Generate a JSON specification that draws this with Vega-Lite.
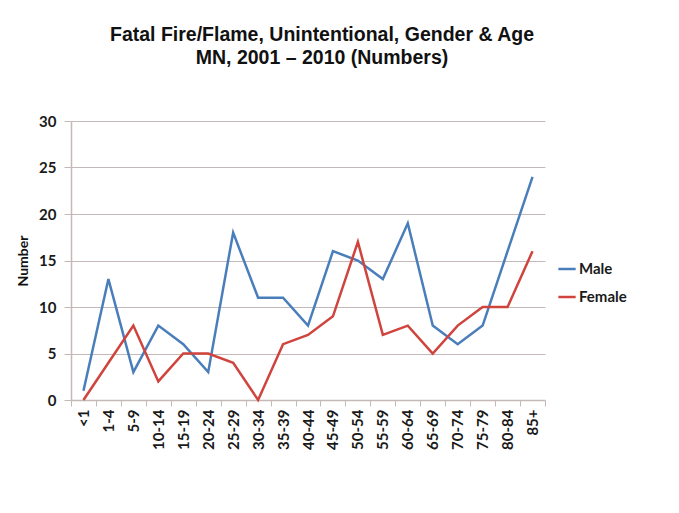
{
  "$schema": "https://vega.github.io/schema/vega-lite/v6.json",
  "width": 474,
  "height": 279,
  "autosize": {"type": "none"},
  "padding": {"left": 71, "top": 121, "right": 134, "bottom": 113},
  "background": "white",
  "title": {
    "text": "Fatal Fire/Flame, Unintentional, Gender & Age",
    "subtitle": "MN, 2001 – 2010 (Numbers)",
    "anchor": "middle",
    "dx": 14,
    "offset": 46,
    "font": "Liberation Sans",
    "fontSize": 19.5,
    "fontWeight": "bold",
    "color": "#111111",
    "subtitleFont": "Liberation Sans",
    "subtitleFontSize": 19.5,
    "subtitleFontWeight": "bold",
    "subtitleColor": "#111111",
    "subtitlePadding": 3
  },
  "data": {
    "values": [
      {"age": "<1", "gender": "Male", "n": 1},
      {"age": "1-4", "gender": "Male", "n": 13},
      {"age": "5-9", "gender": "Male", "n": 3},
      {"age": "10-14", "gender": "Male", "n": 8},
      {"age": "15-19", "gender": "Male", "n": 6},
      {"age": "20-24", "gender": "Male", "n": 3},
      {"age": "25-29", "gender": "Male", "n": 18},
      {"age": "30-34", "gender": "Male", "n": 11},
      {"age": "35-39", "gender": "Male", "n": 11},
      {"age": "40-44", "gender": "Male", "n": 8},
      {"age": "45-49", "gender": "Male", "n": 16},
      {"age": "50-54", "gender": "Male", "n": 15},
      {"age": "55-59", "gender": "Male", "n": 13},
      {"age": "60-64", "gender": "Male", "n": 19},
      {"age": "65-69", "gender": "Male", "n": 8},
      {"age": "70-74", "gender": "Male", "n": 6},
      {"age": "75-79", "gender": "Male", "n": 8},
      {"age": "80-84", "gender": "Male", "n": 16},
      {"age": "85+", "gender": "Male", "n": 24},
      {"age": "<1", "gender": "Female", "n": 0},
      {"age": "1-4", "gender": "Female", "n": 4},
      {"age": "5-9", "gender": "Female", "n": 8},
      {"age": "10-14", "gender": "Female", "n": 2},
      {"age": "15-19", "gender": "Female", "n": 5},
      {"age": "20-24", "gender": "Female", "n": 5},
      {"age": "25-29", "gender": "Female", "n": 4},
      {"age": "30-34", "gender": "Female", "n": 0},
      {"age": "35-39", "gender": "Female", "n": 6},
      {"age": "40-44", "gender": "Female", "n": 7},
      {"age": "45-49", "gender": "Female", "n": 9},
      {"age": "50-54", "gender": "Female", "n": 17},
      {"age": "55-59", "gender": "Female", "n": 7},
      {"age": "60-64", "gender": "Female", "n": 8},
      {"age": "65-69", "gender": "Female", "n": 5},
      {"age": "70-74", "gender": "Female", "n": 8},
      {"age": "75-79", "gender": "Female", "n": 10},
      {"age": "80-84", "gender": "Female", "n": 10},
      {"age": "85+", "gender": "Female", "n": 16}
    ]
  },
  "mark": {"type": "line", "strokeWidth": 2.5},
  "encoding": {
    "x": {
      "field": "age",
      "type": "ordinal",
      "sort": null,
      "scale": {"type": "band", "paddingInner": 0, "paddingOuter": 0},
      "axis": {
        "title": null,
        "labelAngle": -90,
        "labelAlign": "right",
        "labelBaseline": "middle",
        "labelFont": "Lato",
        "labelFontSize": 15,
        "labelFontWeight": "bold",
        "labelColor": "#1a1a1a",
        "labelPadding": 3,
        "tickBand": "extent",
        "tickColor": "#c4b8b8",
        "tickSize": 6,
        "domainColor": "#c4b8b8",
        "domainWidth": 1.5,
        "grid": false
      }
    },
    "y": {
      "field": "n",
      "type": "quantitative",
      "scale": {"domain": [0, 30]},
      "axis": {
        "title": "Number",
        "titleFont": "Lato",
        "titleFontSize": 14,
        "titleFontWeight": "bold",
        "titleColor": "#111111",
        "titlePadding": 8,
        "values": [0, 5, 10, 15, 20, 25, 30],
        "labelFont": "Lato",
        "labelFontSize": 15,
        "labelFontWeight": "bold",
        "labelColor": "#1a1a1a",
        "labelPadding": 8,
        "tickColor": "#c4b8b8",
        "tickSize": 7,
        "domainColor": "#c4b8b8",
        "domainWidth": 1.5,
        "grid": true,
        "gridColor": "#c4b8b8",
        "gridWidth": 1.2
      }
    },
    "color": {
      "field": "gender",
      "type": "nominal",
      "sort": ["Male", "Female"],
      "scale": {"domain": ["Male", "Female"], "range": ["#4a7ebb", "#d0443e"]},
      "legend": {
        "title": null,
        "orient": "none",
        "legendX": 486,
        "legendY": 138,
        "symbolType": "stroke",
        "symbolStrokeWidth": 2.5,
        "symbolSize": 300,
        "labelFont": "Lato",
        "labelFontSize": 15,
        "labelFontWeight": "bold",
        "labelColor": "#1a1a1a",
        "rowPadding": 10,
        "labelOffset": 2
      }
    }
  },
  "config": {"view": {"stroke": null}}
}
